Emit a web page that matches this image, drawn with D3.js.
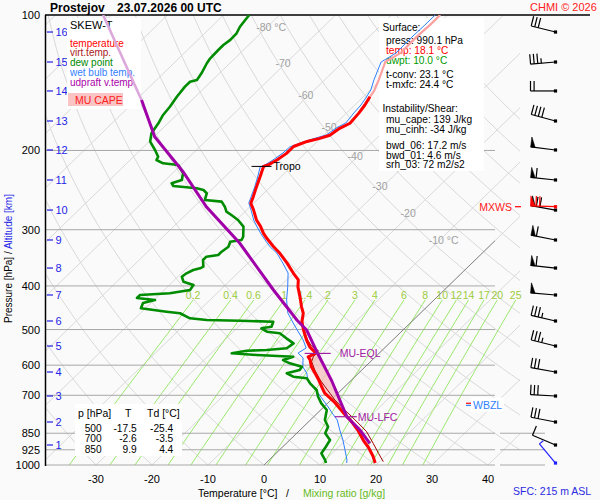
<!DOCTYPE html>
<html><head><meta charset="utf-8">
<script src="https://cdn.jsdelivr.net/npm/d3@7/dist/d3.min.js"></script>
<style>
html,body{margin:0;padding:0;background:#fafafa;}
svg text{font-family:"Liberation Sans",Arial,Helvetica,sans-serif;}
</style></head><body>
<svg id="chart" width="600" height="500"></svg>
<script>
// ---------------- data ----------------
const pressureTicks=[100,200,300,400,500,600,700,850,925,1000];
const tempTicks=[-30,-20,-10,0,10,20,30,40];
const isothermLabelT=[-80,-70,-60,-50,-40,-30,-20,-10];
const isothermLabelP=[106.3,127.6,150.5,177.1,205.4,239.9,275.4,316.2];
const mixingRatios=[0.2,0.4,0.6,1,1.4,2,3,4,6,8,10,12,14,17,20,25];
const mixingLabels=["0.2","0.4","0.6","1","1.4","2","3","4","6","8","10","12","14","17","20","25"];
const kmLevels=[1,2,3,4,5,6,7,8,9,10,11,12,13,14,15,16];
const kmPressure=[902.7,802.5,702.6,621.4,544.0,478.6,419.0,365.0,316.2,271.3,232.6,199.5,172.0,147.5,127.2,109.1];

// temperature
const tempP=[990,955,912,884.5,836,794,774,728,710,692,670,647,625,605,584,575,564,547,527.5,501,480,460,445,423,402,388,375,356,338.5,327,313.5,305.6,295,285.5,271,262,253,241,229,217,215,210,203,196,191,188,185,178.6,174,165,158.5,152,147,139,127,121.6,111.7,105.3,100];
const tempT=[19.5,17.8,15.3,13.4,10.3,7.1,5.3,1.3,-0.5,-2.4,-4.1,-5.9,-7.8,-9.6,-11.1,-12.0,-11.3,-13.5,-15.4,-17.8,-19.6,-20.9,-22.4,-24.5,-26.7,-27.9,-30.0,-33.0,-36.1,-38.5,-41.2,-42.7,-44.5,-46.4,-48.8,-50.5,-51.3,-52.5,-53.7,-55.0,-54.4,-53.8,-53.3,-53.3,-51.8,-50.1,-48.9,-48.4,-47.5,-47.8,-48.2,-48.8,-49.2,-50.4,-52.5,-51.4,-51.5,-51.3,-51.3];
// virtual temperature (lower part)
const virtP=[983.3,941.9,894.9,843.3,814.8,781.0,754.8,717.1,693.0,669.9,647.4,615.1,589.4,574.6,557.2,544.0,527.5,501.2];
const virtT=[20.7,18.3,15.5,12.2,9.8,6.8,4.3,0.7,-1.4,-3.5,-5.6,-8.4,-10.5,-11.1,-11.3,-13.4,-15.2,-17.7];
// dew point
const dewP=[989.8,974.8,941.9,918.2,880.1,850.3,822.1,794.3,754.8,729.4,705.1,681.3,658.4,641.7,636.5,625.5,615.1,604.8,594.3,584.4,574.6,569.6,564.7,557.2,555.2,550.4,536.6,523.0,509.8,505.6,496.9,492.8,480.4,477.9,476.2,472.1,460.1,456.4,448.5,436.5,430,425.5,419.0,415.4,408.4,398.1,391.5,381.6,375.0,368.7,365.5,362.5,350.3,344.4,341.5,335.7,327.3,319.0,316.2,311.0,295.4,285.5,278.3,273.6,266.7,259.9,257.7,249.0,244.8,242.7,239.9,236.6,232.6,224.8,215.4,213.6,210,206.5,199.5,191.2,183.2,174.1,166.8,159.9,151.9,144.3,140.7,139.4,134.8,128.0,124.8,119.6,116.6,113.6,109.8,106.2,102.6,100];
const dewT=[10.7,10.0,8.1,7.8,7.2,5.1,4.4,2.6,1.1,-1.1,-2.9,-4.4,-6.8,-8.3,-11.0,-12.8,-11.1,-11.3,-14.1,-15.9,-14.7,-21.5,-26.3,-24.1,-20.7,-17.4,-17.1,-19.3,-21.4,-24.0,-25.6,-24.1,-24.7,-30.8,-36.9,-40.2,-42.9,-45.6,-50.8,-51.4,-49.8,-53.4,-53.4,-48.4,-45.4,-45.7,-48.1,-49.3,-49.1,-48.5,-47.6,-47.3,-48.6,-48.6,-46.8,-46.8,-46.5,-47.1,-45.4,-45.7,-47.5,-49.7,-51.8,-53.3,-54.5,-56.0,-59.3,-60.2,-61.4,-62.9,-67.5,-68.3,-67.1,-68.1,-70.5,-73.5,-75.3,-75.6,-77.4,-79.8,-81.1,-81.7,-82.4,-82.7,-83.3,-83.7,-83.7,-82.8,-83.2,-84.1,-84.4,-84.5,-84.5,-84.2,-84.3,-84.9,-85.2,-85.4];
// wet bulb temperature
const wetP=[989.8,974.8,926.1,880.1,836.1,794.3,766.4,743.2,717.1,691.8,671,647.4,624.5,605.6,578.4,563.8,549.5,527.5,503.8,483.6,459.4,430,402.3,374.5,355.7,338,327.7,316.2,306.7,295.9,285.5,271.3,261.7,253.8,241.1,229.1,217.6,215.4,210,202.6,196.5,191.5,187.7,184.8,178.3,173.8,165.1,158.5,152.1,146.8,139.4,127.2,121.5,111.9,105.3,100];
const wetT=[14.4,13.9,11.7,9.5,7.1,4.8,2.6,0.8,-1.4,-3.6,-5.6,-7.8,-9.3,-11.1,-12.7,-14.5,-14.0,-16.0,-18.6,-20.9,-23.7,-26.3,-28.5,-31.0,-33.8,-36.7,-39.0,-41.2,-43.0,-45.0,-46.9,-49.2,-50.9,-51.6,-52.8,-54.1,-55.5,-55.0,-54.5,-54.0,-53.9,-52.4,-50.9,-49.6,-49.1,-48.3,-48.7,-48.9,-49.4,-49.9,-51.2,-53.2,-52.2,-52.3,-52.2,-52.2];
// MU parcel (updraft virtual temperature)
const parcelP=[894.9,836.1,781.0,647.4,560.2,501.2,476.2,408.4,321.6,266.7,223.0,186.4,154.5,100];
const parcelT=[14.9,10.7,5.9,-3.6,-11.4,-17.2,-20.8,-30.5,-45.1,-57.8,-68.4,-79.9,-89.0,-111.5];
// levels
const lfcP=781, eqlP=565, tropoP=217, tropoT=-55.0, wbzlP=734, mxwsP=266.7, lightAboveP=154.5;
// winds (per km level) + surface + max wind
const windDir=[293,281,273,280,284,283,275,276,281,280,276,277,285,270,265,284];
const windSpd=[10,30,30,30,35,35,50,60,60,70,60,50,40,20,35,30];
const sfcWindP=990, sfcWindDir=320, sfcWindSpd=5;
const mxwsDir=272, mxwsSpd=70;
// text
const infoLines=[["Surface:",0,"#000"],["press: 990.1 hPa",1,"#000"],["temp: 18.1 °C",1,"#ff0000"],["dwpt: 10.0 °C",1,"#009900"],["t-conv: 23.1 °C",1,"#000"],["t-mxfc: 24.4 °C",1,"#000"],["Instability/Shear:",0,"#000"],["mu_cape: 139 J/kg",1,"#000"],["mu_cinh: -34 J/kg",1,"#000"],["bwd_06: 17.2 m/s",1,"#000"],["bwd_01: 4.6 m/s",1,"#000"],["srh_03: 72 m2/s2",1,"#000"]];
const infoY=[31,44,54,64,78,88,112,123,133,149,158.5,168];
const legendItems=[["SKEW-T","#000"],["temperature","#ff0000"],["virt.temp.","#a82020"],["dew point","#008800"],["wet bulb temp.","#3380ff"],["udpraft v.temp.","#aa00aa"]];
const legendY=[29,46.5,56,66,75.5,85.5];
const tableP=["500","700","850"], tableT=["-17.5","-2.6","9.9"], tableTd=["-25.4","-3.5","4.4"];

// ---------------- scales ----------------
const svg=d3.select("#chart");
const yP=d3.scaleLog().domain([100,1000]).range([15,465]);
const xT=d3.scaleLinear().domain([0,10]).range([264,320]);
const SKEW=1.03;
const X=(T,p)=>xT(T)+SKEW*(yP(1000)-yP(p));

svg.append("rect").attr("width",600).attr("height",500).attr("fill","#fafafa");
const defs=svg.append("defs");
defs.append("clipPath").attr("id","gclip").append("rect").attr("x",45).attr("y",15).attr("width",475).attr("height",450);
defs.append("clipPath").attr("id","pclip").append("rect").attr("x",45).attr("y",15).attr("width",450).attr("height",450);

const line=d3.line().x(d=>X(d[1],d[0])).y(d=>yP(d[0]));
const grid=svg.append("g").attr("clip-path","url(#gclip)");

// isotherms
for(let T=-120;T<=40;T+=10){
  grid.append("path").attr("d",line([[1000,T],[100,T]])).attr("stroke","#d9d9d9").attr("fill","none").attr("stroke-width",1);
}
// dry adiabats
for(let th=-30;th<=150;th+=10){
  const pts=[];
  for(let p=1000;p>=100;p-=10){pts.push([p,(th+273.15)*Math.pow(p/1000,0.2857)-273.15]);}
  grid.append("path").attr("d",line(pts)).attr("stroke","#d9d9d9").attr("fill","none").attr("stroke-width",1);
}
// mixing ratio lines
function tdFromW(w,p){const e=w*p/(622+w);const l=Math.log(e/6.112);return 243.5*l/(17.67-l);}
const mixG=svg.append("g");
mixingRatios.forEach((w,i)=>{
  const pts=[];
  for(let p=1000;p>=430;p-=10){pts.push([p,tdFromW(w,p)]);}
  mixG.append("path").attr("d",line(pts)).attr("stroke","#98e868").attr("fill","none").attr("stroke-width",1);
  mixG.append("text").attr("x",X(tdFromW(w,430),430)).attr("y",yP(430)-1.5).attr("text-anchor","middle")
    .attr("font-size",10.5).attr("fill","#9ccc3c").text(mixingLabels[i]);
});
// isobars
pressureTicks.forEach(p=>{
  if(p===100) return;
  svg.append("line").attr("x1",45).attr("x2",495).attr("y1",yP(p)).attr("y2",yP(p)).attr("stroke","#a8a8a8").attr("stroke-width",1);
  if(p>=850) svg.append("line").attr("x1",500).attr("x2",545).attr("y1",yP(p)).attr("y2",yP(p)).attr("stroke","#a8a8a8").attr("stroke-width",1);
});
// 0 degree isotherm
svg.append("g").attr("clip-path","url(#pclip)").append("path").attr("d",line([[1000,0],[100,0]])).attr("stroke","#707070").attr("stroke-width",0.8).attr("fill","none");
// isotherm labels
isothermLabelT.forEach((T,i)=>{
  const p=isothermLabelP[i];
  svg.append("text").attr("x",X(T,p)-11).attr("y",yP(p)+4).attr("font-size",10.5).attr("fill","#a0a0a0")
    .text((i===0||i===isothermLabelT.length-1)?T+" °C":String(T));
});
// frame
svg.append("line").attr("x1",45).attr("x2",590).attr("y1",15).attr("y2",15).attr("stroke","#000").attr("stroke-width",1.3);
svg.append("line").attr("x1",45.5).attr("x2",45.5).attr("y1",15).attr("y2",466).attr("stroke","#000").attr("stroke-width",1.5);
// pressure labels
pressureTicks.forEach(p=>{
  svg.append("text").attr("x",40).attr("y",yP(p)+4).attr("text-anchor","end").attr("font-size",11).attr("fill","#000").text(p);
});
// km ticks
kmLevels.forEach((k,i)=>{
  const y=yP(kmPressure[i]);
  svg.append("line").attr("x1",47).attr("x2",53).attr("y1",y).attr("y2",y).attr("stroke","#1f1fe6").attr("stroke-width",1.2);
  svg.append("text").attr("x",55.5).attr("y",y+4).attr("font-size",11).attr("fill","#1f1fe6").text(k);
});
// temperature labels
tempTicks.forEach(t=>{
  svg.append("text").attr("x",xT(t)).attr("y",483).attr("text-anchor","middle").attr("font-size",11).attr("fill","#000").text(t);
});
// axis titles
const yt=svg.append("text").attr("transform","translate(11.5,323) rotate(-90)").attr("font-size",10);
yt.append("tspan").attr("fill","#000").text("Pressure [hPa]  /  ");
yt.append("tspan").attr("fill","#1f1fe6").text("Altitude [km]");
svg.append("text").attr("x",198).attr("y",497).attr("font-size",10.5).attr("fill","#000").text("Temperature [°C]");
svg.append("text").attr("x",286).attr("y",497).attr("font-size",10.5).attr("fill","#000").text("/");
svg.append("text").attr("x",303).attr("y",497).attr("font-size",10.5).attr("fill","#66bb22").text("Mixing ratio [g/kg]");
// title
svg.append("text").attr("x",50).attr("y",12).attr("font-size",12).attr("font-weight","bold").attr("fill","#000").text("Prostejov");
svg.append("text").attr("x",117).attr("y",12).attr("font-size",12).attr("font-weight","bold").attr("fill","#000").text("23.07.2026 00 UTC");
svg.append("text").attr("x",530).attr("y",11).attr("font-size",11).attr("fill","#ff2020").text("CHMI © 2026");
svg.append("text").attr("x",513).attr("y",495).attr("font-size",10.5).attr("fill","#2a2ae0").text("SFC: 215 m ASL");

// boxes
svg.append("rect").attr("x",67).attr("y",18).attr("width",74).attr("height",91).attr("fill","#fff");
legendItems.forEach((d,i)=>{
  svg.append("text").attr("x",70).attr("y",legendY[i]).attr("font-size",i===0?11:10).attr("fill",d[1]).text(d[0]);
});
svg.append("rect").attr("x",68).attr("y",93).attr("width",55).attr("height",13).attr("fill","#f8c4c4");
svg.append("text").attr("x",75).attr("y",104).attr("font-size",10.5).attr("fill","#ff2020").text("MU CAPE");

svg.append("rect").attr("x",379).attr("y",18).attr("width",105).attr("height",153).attr("fill","#fff");
infoLines.forEach((d,i)=>{
  svg.append("text").attr("x",d[1]?386:382.5).attr("y",infoY[i]).attr("font-size",10.2).attr("fill",d[2]).text(d[0]);
});

svg.append("rect").attr("x",75).attr("y",404).attr("width",107).attr("height",52).attr("fill","#fff");
svg.append("text").attr("x",78).attr("y",417).attr("font-size",10.5).text("p [hPa]");
svg.append("text").attr("x",125).attr("y",417).attr("font-size",10.5).text("T");
svg.append("text").attr("x",147).attr("y",417).attr("font-size",10.5).text("Td [°C]");
const rowY=[432,442,453];
tableP.forEach((v,i)=>{
  svg.append("text").attr("x",101.7).attr("y",rowY[i]).attr("text-anchor","end").attr("font-size",10.2).text(v);
  svg.append("text").attr("x",136.7).attr("y",rowY[i]).attr("text-anchor","end").attr("font-size",10.2).text(tableT[i]);
  svg.append("text").attr("x",173.3).attr("y",rowY[i]).attr("text-anchor","end").attr("font-size",10.2).text(tableTd[i]);
});

// ---------------- profiles ----------------
function interp(P,T,p){
  for(let i=0;i<P.length-1;i++){
    if((P[i]>=p&&P[i+1]<=p)){
      const a=Math.log(P[i]),b=Math.log(P[i+1]),t=(Math.log(p)-a)/(b-a);
      return T[i]+t*(T[i+1]-T[i]);
    }
  }
  return T[T.length-1];
}
const zip=(P,T)=>P.map((p,i)=>[p,T[i]]);
const prof=svg.append("g").attr("clip-path","url(#pclip)");

// CAPE area
{
  const ps=[lfcP].concat(tempP.filter(p=>p<lfcP&&p>eqlP)).concat([eqlP]);
  const right=ps.map(p=>[X(interp(parcelP,parcelT,p),p),yP(p)]);
  const left=ps.slice().reverse().map(p=>[X(interp(tempP,tempT,p),p),yP(p)]);
  prof.append("polygon").attr("points",right.concat(left).map(d=>d.join(",")).join(" "))
    .attr("fill","#f6bcbc").attr("fill-opacity",0.75);
}
const tempAll=zip(tempP,tempT);
const parcelAll=zip(parcelP,parcelT);
prof.append("path").attr("d",line(zip(wetP,wetT))).attr("stroke","#2f7fff").attr("stroke-width",1).attr("fill","none");
prof.append("path").attr("d",line(zip(dewP,dewT))).attr("stroke","#008c00").attr("stroke-width",2.6).attr("fill","none").attr("stroke-linejoin","round");
prof.append("path").attr("d",line(tempAll.filter(d=>d[0]<=158.5))).attr("stroke","#ffa0a0").attr("stroke-width",2.2).attr("fill","none");
prof.append("path").attr("d",line(zip(virtP,virtT))).attr("stroke","#a00000").attr("stroke-width",1).attr("fill","none");
prof.append("path").attr("d",line(tempAll.filter(d=>d[0]>=152))).attr("stroke","#ff0000").attr("stroke-width",3).attr("fill","none").attr("stroke-linejoin","round");
prof.append("path").attr("d",line(parcelAll.filter(d=>d[0]<=lightAboveP))).attr("stroke","#dca8dc").attr("stroke-width",2.6).attr("fill","none");
prof.append("path").attr("d",line(parcelAll.filter(d=>d[0]>=lightAboveP))).attr("stroke","#a000a8").attr("stroke-width",3).attr("fill","none");

// level markers
{
  const xt=X(tropoT,tropoP), y=yP(tropoP);
  svg.append("line").attr("x1",xt-12).attr("x2",xt+8).attr("y1",y).attr("y2",y).attr("stroke","#000").attr("stroke-width",1);
  svg.append("text").attr("x",xt+10).attr("y",y+4).attr("font-size",10.5).attr("fill","#000").text("Tropo");
  const xe=X(interp(parcelP,parcelT,eqlP),eqlP), ye=yP(eqlP);
  svg.append("line").attr("x1",xe-13).attr("x2",xe+13).attr("y1",ye).attr("y2",ye).attr("stroke","#a020a0").attr("stroke-width",1.2);
  svg.append("text").attr("x",xe+22).attr("y",ye+4).attr("font-size",10.5).attr("fill","#a020a0").text("MU-EQL");
  const xl=X(interp(parcelP,parcelT,lfcP),lfcP), yl=yP(lfcP);
  svg.append("line").attr("x1",xl-12).attr("x2",xl+10).attr("y1",yl).attr("y2",yl).attr("stroke","#a020a0").attr("stroke-width",1.2);
  svg.append("text").attr("x",xl+11).attr("y",yl+4).attr("font-size",10.5).attr("fill","#a020a0").text("MU-LFC");
  const yw=yP(wbzlP);
  svg.append("rect").attr("x",471).attr("y",yw-7).attr("width",33).attr("height",14).attr("fill","#fff");
  svg.append("line").attr("x1",466).attr("x2",471).attr("y1",yw-1.3).attr("y2",yw-1.3).attr("stroke","#ff0000").attr("stroke-width",1.2);
  svg.append("line").attr("x1",466).attr("x2",471).attr("y1",yw+0.8).attr("y2",yw+0.8).attr("stroke","#2f7fff").attr("stroke-width",1.2);
  svg.append("text").attr("x",473).attr("y",yw+4).attr("font-size",10.5).attr("fill","#2f7fff").text("WBZL");
  const ym=yP(mxwsP);
  svg.append("text").attr("x",512).attr("y",ym+4).attr("text-anchor","end").attr("font-size",10.5).attr("fill","#ff2020").text("MXWS");
  svg.append("line").attr("x1",515).attr("x2",521).attr("y1",ym).attr("y2",ym).attr("stroke","#ff0000").attr("stroke-width",1.2);
}

// ---------------- wind barbs ----------------
const SX=555.5;
function barb(p,dir,spd,color){
  const g=svg.append("g");
  const py=yP(p), px=SX;
  const L=25, bl=10, sp=3.6;
  const r=dir*Math.PI/180, ux=Math.sin(r), uy=-Math.cos(r);
  const bx=-uy, by=ux;
  const ex=px+L*ux, ey=py+L*uy;
  g.append("line").attr("x1",px).attr("y1",py).attr("x2",ex).attr("y2",ey).attr("stroke",color).attr("stroke-width",1.2);
  g.append("rect").attr("x",px-1.6).attr("y",py-1.6).attr("width",3.2).attr("height",3.2).attr("fill",color);
  let s=Math.round(spd/5)*5, pos=0;
  while(s>=50){
    const ax=ex-ux*pos, ay=ey-uy*pos;
    g.append("polygon").attr("points",[[ax,ay],[ax+bx*bl,ay+by*bl],[ax-ux*4.5,ay-uy*4.5]].map(d=>d.join(",")).join(" ")).attr("fill",color).attr("stroke",color).attr("stroke-width",0.6);
    pos+=5.5; s-=50;
  }
  while(s>=10){
    const ax=ex-ux*pos, ay=ey-uy*pos;
    g.append("line").attr("x1",ax).attr("y1",ay).attr("x2",ax+bx*bl).attr("y2",ay+by*bl).attr("stroke",color).attr("stroke-width",1.2);
    pos+=sp; s-=10;
  }
  if(s>=5){
    const ax=ex-ux*pos, ay=ey-uy*pos;
    g.append("line").attr("x1",ax).attr("y1",ay).attr("x2",ax+bx*bl*0.5).attr("y2",ay+by*bl*0.5).attr("stroke",color).attr("stroke-width",1.2);
  }
}
kmPressure.forEach((p,i)=>barb(p,windDir[i],windSpd[i],"#000"));
barb(mxwsP,mxwsDir,mxwsSpd,"#ff0000");
barb(sfcWindP,sfcWindDir,sfcWindSpd,"#1f1fff");
</script>
</body></html>
